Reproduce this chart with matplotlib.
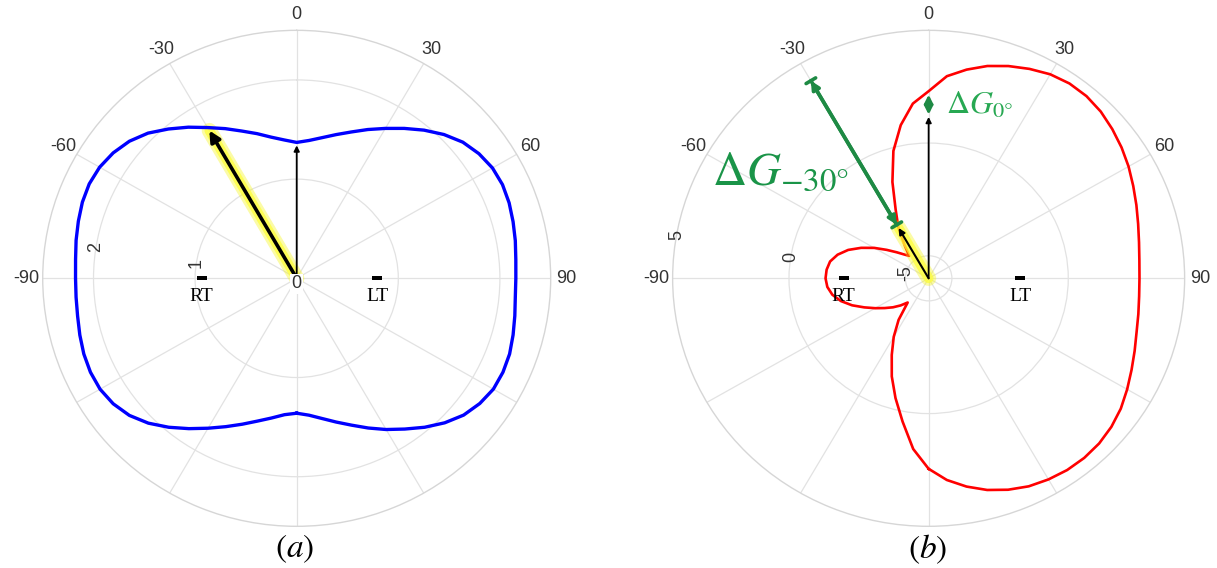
import numpy as np
import matplotlib.pyplot as plt

plt.rcParams['mathtext.fontset'] = 'stix'
plt.rcParams['font.family'] = ['Liberation Sans', 'DejaVu Sans']

# polar angle (deg, 0 = front, clockwise) and gain values
theta_deg = np.arange(-180, 181, 5)

# (a) symmetric pattern
gain_a = [1.36, 1.38, 1.43, 1.49, 1.565, 1.65, 1.745, 1.85, 1.96, 2.065, 2.15, 2.205,
          2.235, 2.24, 2.23, 2.21, 2.19, 2.18,
          2.177, 2.185, 2.205, 2.225, 2.245, 2.253, 2.24, 2.205, 2.15, 2.07, 1.965,
          1.86, 1.755, 1.665, 1.58, 1.51, 1.445, 1.40,
          1.37,
          1.395, 1.44, 1.50, 1.57, 1.655, 1.745, 1.845, 1.95, 2.05, 2.135, 2.19,
          2.225, 2.235, 2.225, 2.205, 2.185, 2.165,
          2.157, 2.16, 2.18, 2.205, 2.23, 2.24, 2.235, 2.20, 2.145, 2.06, 1.96,
          1.855, 1.76, 1.665, 1.575, 1.50, 1.435, 1.385, 1.36]

# (b) pattern in dB
gain_b = [2.45, 1.6, 0.45, -0.5, -1.37, -2.25, -3.0, -3.75, -4.6, -4.3, -4.0, -3.7,
          -3.35, -2.95, -2.5, -2.1, -1.8, -1.63,
          -1.57, -1.6, -1.7, -1.95, -2.32, -2.8, -3.3, -3.8, -4.2, -4.5, -4.7,
          -4.2, -3.4, -2.65, -1.45, -0.15, 0.9, 1.78,
          2.3,
          3.0, 3.4, 3.75, 4.02, 4.25, 4.45, 4.55, 4.55, 4.46, 4.3, 4.12,
          3.92, 3.7, 3.5, 3.32, 3.18, 3.09,
          3.06, 3.08, 3.15, 3.25, 3.42, 3.62, 3.85, 4.08, 4.25, 4.36, 4.40,
          4.38, 4.30, 4.18, 3.98, 3.72, 3.38, 2.98, 2.45]

grid_angles = np.arange(0, 360, 30)
angle_labels = {0: '0', 30: '30', 60: '60', 90: '90', 270: '-90', 300: '-60', 330: '-30'}

# arrow values
a_front, a_peak = 1.34, 1.72
b_front, b_m30 = 1.16, -3.42
dg0 = (1.26, 2.15)
dg30 = (-3.26, 4.12)

W, H = 1217, 568
fig = plt.figure(figsize=(W / 100, H / 100), dpi=100)
ax_a = fig.add_axes([0.0351, 0.0734, 0.4174, 0.8732], projection='polar')
ax_b = fig.add_axes([0.5527, 0.0734, 0.4207, 0.8732], projection='polar')

for ax in (ax_a, ax_b):
    ax.set_theta_zero_location('N')
    ax.set_theta_direction(-1)
    ax.set_aspect('auto')
    ax.set_thetagrids(grid_angles, [angle_labels.get(a, '') for a in grid_angles])
    ax.tick_params(axis='x', labelsize=13, labelcolor='#333333', pad=1)
    ax.grid(color='#e2e2e2', lw=0.9)
    ax.spines['polar'].set_color('#d6d6d6')
    ax.spines['polar'].set_linewidth(1.0)

th = np.deg2rad(theta_deg)
t30 = np.deg2rad(-30)

# ---- (a)
ax_a.set_rlim(0, 2.5)
ax_a.set_rticks([1, 2])
ax_a.set_yticklabels([])
ax_a.plot(th, gain_a, color='#0000ff', lw=2.4, zorder=3, solid_joinstyle='round')
ax_a.plot([t30, t30], [0, a_peak], color='#f5f500', lw=11, alpha=0.35,
          solid_capstyle='round', zorder=2)
ax_a.plot([t30, t30], [0, a_peak], color='#ffff33', lw=7, alpha=0.7,
          solid_capstyle='round', zorder=2)
ax_a.annotate('', xy=(t30, a_peak), xytext=(0, 0),
              arrowprops=dict(arrowstyle='-|>', color='black', lw=2.6,
                              mutation_scale=16, shrinkA=0, shrinkB=0), zorder=4)
ax_a.annotate('', xy=(0, a_front), xytext=(0, 0),
              arrowprops=dict(arrowstyle='-|>', color='black', lw=1.3,
                              mutation_scale=8, shrinkA=0, shrinkB=0), zorder=4)
for r, lab in [(1, '1'), (2, '2')]:
    ax_a.text(np.deg2rad(-81), r, lab, rotation=90, ha='center', va='center',
              fontsize=13, color='#333333')
ax_a.annotate('0', xy=(0, 0), xytext=(0, -4), textcoords='offset points',
              ha='center', va='center', fontsize=13, color='#333333',
              bbox=dict(fc='white', ec='none', pad=1.0), zorder=5)

# ---- (b)
ax_b.set_rlim(-6, 5)
ax_b.set_rticks([-5, 0])
ax_b.set_yticklabels([])
ax_b.plot(th, gain_b, color='#ff0000', lw=1.9, zorder=3, solid_joinstyle='round')
ax_b.plot([t30, t30], [-6, b_m30], color='#f5f500', lw=11, alpha=0.35,
          solid_capstyle='round', zorder=4)
ax_b.plot([t30, t30], [-6, b_m30], color='#ffff33', lw=7, alpha=0.7,
          solid_capstyle='round', zorder=4)
ax_b.annotate('', xy=(t30, b_m30), xytext=(0, -6),
              arrowprops=dict(arrowstyle='-|>', color='black', lw=1.5,
                              mutation_scale=9, shrinkA=0, shrinkB=0), zorder=5)
ax_b.annotate('', xy=(0, b_front), xytext=(0, -6),
              arrowprops=dict(arrowstyle='-|>', color='black', lw=1.3,
                              mutation_scale=8, shrinkA=0, shrinkB=0), zorder=5)
green = '#1e8a44'
for style, ms in [('<|-|>', 12), ('|-|', 4)]:
    ax_b.annotate('', xy=(t30, dg30[1]), xytext=(t30, dg30[0]),
                  arrowprops=dict(arrowstyle=style, color=green, lw=2.6,
                                  mutation_scale=ms, shrinkA=0, shrinkB=0), zorder=5)
ax_b.annotate('', xy=(0, dg0[1]), xytext=(0, dg0[0]),
              arrowprops=dict(arrowstyle='<|-|>', color=green, lw=2.2,
                              mutation_scale=12, shrinkA=0, shrinkB=0), zorder=5)
for r, lab, ang in [(-5, '-5', -77), (0, '0', -81), (5, '5', -80)]:
    ax_b.text(np.deg2rad(ang), r, lab, rotation=90, ha='center', va='center',
              fontsize=13, color='#333333')

# RT / LT marks
for ax, pts in [(ax_a, [(-90, 0.935, 'RT'), (90, 0.79, 'LT')]),
                (ax_b, [(-90, -2.35, 'RT'), (90, -2.07, 'LT')])]:
    for ang, r, lab in pts:
        t = np.deg2rad(ang)
        ax.plot([t], [r], marker='_', ms=7, mew=1.7, color='black', zorder=5)
        ax.annotate(lab, xy=(t, r), xytext=(0, -13), textcoords='offset points',
                    ha='center', va='center', fontsize=14,
                    family='Liberation Serif', color='black', zorder=5)

# annotation texts
fig.text(712 / W, 1 - 185 / H, r'$\Delta G_{-30°}$', fontsize=34, color='#1a9448',
         ha='left', va='baseline')
fig.text(946 / W, 1 - 114 / H, r'$\Delta G_{0°}$', fontsize=23, color='#27a852',
         ha='left', va='baseline')
fig.text(295 / W, 1 - 549 / H, r'$(a)$', fontsize=24, ha='center', va='center')
fig.text(928 / W, 1 - 549 / H, r'$(b)$', fontsize=24, ha='center', va='center')

fig.savefig('out.png', dpi=100)
